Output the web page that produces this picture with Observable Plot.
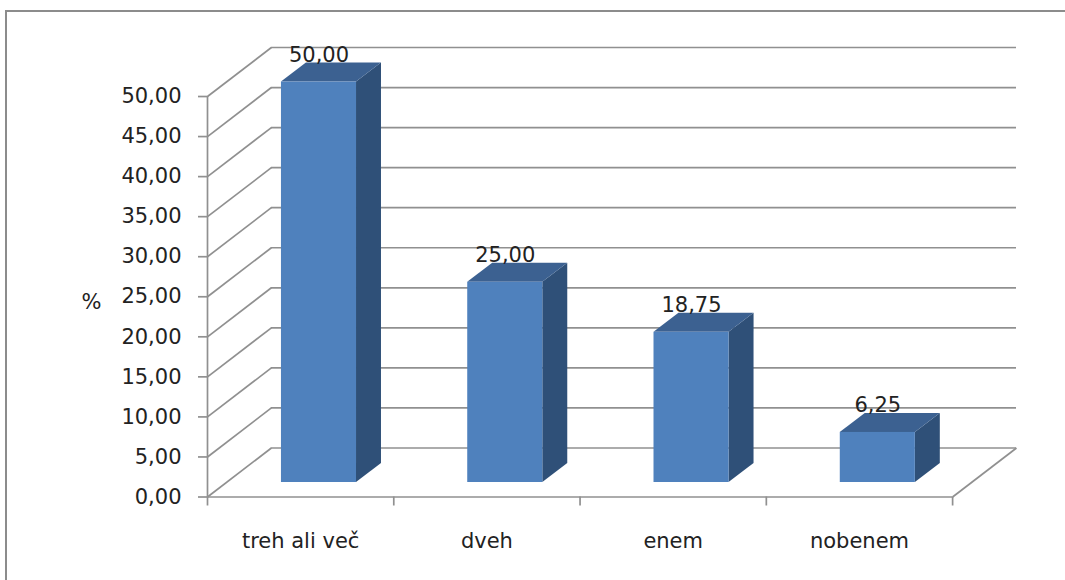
<!DOCTYPE html>
<html>
<head>
<meta charset="utf-8">
<script src="https://cdn.jsdelivr.net/npm/d3@7"></script>
<script src="https://cdn.jsdelivr.net/npm/@observablehq/plot@0.6"></script>
<style>
  html, body { margin: 0; padding: 0; background: #fff; }
  #chart { position: relative; width: 1065px; height: 580px; overflow: hidden; }
  #chart svg { display: block; }
  /* Open-ended chart-area border along the top and left edges */
  #edge { position: absolute; left: 5px; top: 10px; right: -4px; bottom: -4px;
          border-top: 2px solid #8c8c8c; border-left: 2px solid #8c8c8c; }
</style>
</head>
<body>
<div id="chart"><div id="edge"></div></div>
<script>
const categories = ["treh ali več", "dveh", "enem", "nobenem"];
const values = [50, 25, 18.75, 6.25];
const yTicks = [0, 5, 10, 15, 20, 25, 30, 35, 40, 45, 50];
const xTicks = [0, 1, 2, 3, 4];

// Oblique projection of the chart box, expressed in scale units
const wallX = 0.343, wallY = 6.12;
// Where each bar stands inside its slot, and how deep it is
const barLeft = 0.397, barWidth = 0.403;
const barLift = 1.81, barDepthX = 0.134, barDepthY = 2.37;

const colors = {grid: "#909090", front: "#4f81bd", top: "#3c6191", side: "#2f5078", text: "#222"};
const font = "DejaVu Sans";

const bars = categories.map((category, i) => {
  const x1 = i + barLeft, x2 = x1 + barWidth;
  const y1 = barLift, y2 = barLift + values[i];
  return {category, value: values[i], x1, x2, y1, y2};
});

const sideFaces = bars.flatMap((b) => [
  {category: b.category, x: b.x2, y1: b.y1, y2: b.y2},
  {category: b.category, x: b.x2 + barDepthX, y1: b.y1 + barDepthY, y2: b.y2 + barDepthY}
]);

const topFaces = bars.flatMap((b) => [
  {category: b.category, x: b.x1, y1: b.y2, y2: b.y2},
  {category: b.category, x: b.x1 + barDepthX, y1: b.y2, y2: b.y2 + barDepthY},
  {category: b.category, x: b.x2, y1: b.y2, y2: b.y2 + barDepthY},
  {category: b.category, x: b.x2 + barDepthX, y1: b.y2 + barDepthY, y2: b.y2 + barDepthY}
]);

const gridStyle = {stroke: colors.grid, strokeWidth: 1.7};

const plot = Plot.plot({
  width: 1065,
  height: 580,
  marginLeft: 207,
  marginRight: 49,
  marginTop: 47,
  marginBottom: 83.5,
  style: {fontFamily: font, background: "transparent", overflow: "visible"},
  x: {domain: [0, 4 + wallX], axis: null},
  y: {domain: [0, 50 + wallY], axis: null},
  marks: [
    // Back wall gridlines and the diagonals that run down the side wall
    Plot.ruleY(yTicks, {y: (d) => d + wallY, x1: wallX, x2: 4 + wallX, ...gridStyle}),
    Plot.link(yTicks, {x1: 0, y1: (d) => d, x2: wallX, y2: (d) => d + wallY, ...gridStyle}),
    // Floor edges
    Plot.link([0], {x1: 4, y1: 0, x2: 4 + wallX, y2: wallY, ...gridStyle}),
    Plot.ruleY([0], {x1: 0, x2: 4, ...gridStyle}),
    Plot.ruleX([0], {y1: 0, y2: 50, ...gridStyle}),

    // Axes
    Plot.axisY(yTicks, {
      anchor: "left", label: null, tickSize: 9, tickPadding: 17, fontSize: 21,
      tickFormat: (d) => d.toFixed(2).replace(".", ","),
      stroke: colors.grid, fill: colors.text, strokeWidth: 1.7
    }),
    Plot.axisX(xTicks, {
      anchor: "bottom", label: null, tickSize: 9, tickFormat: () => "",
      stroke: colors.grid, strokeWidth: 1.7
    }),
    Plot.text(["%"], {frameAnchor: "left", dx: -126, dy: 30, fontSize: 21, fill: colors.text}),

    // Bars: side, top, then front face
    Plot.area(sideFaces, {x1: "x", y1: "y1", y2: "y2", z: "category", fill: colors.side}),
    Plot.area(topFaces, {x1: "x", y1: "y1", y2: "y2", z: "category", fill: colors.top}),
    Plot.rect(bars, {x1: "x1", x2: "x2", y1: "y1", y2: "y2", fill: colors.front}),

    // Value labels and category names
    Plot.text(bars, {
      x: (d) => (d.x1 + d.x2) / 2, y: "y2", dy: -27,
      text: (d) => d.value.toFixed(2).replace(".", ","),
      fontSize: 21, fill: colors.text
    }),
    Plot.text(categories, {
      x: (d, i) => i + 0.5, y: 0, dy: 44,
      text: (d) => d, fontSize: 21, fill: colors.text
    })
  ]
});

document.getElementById("chart").appendChild(plot);
</script>
</body>
</html>
